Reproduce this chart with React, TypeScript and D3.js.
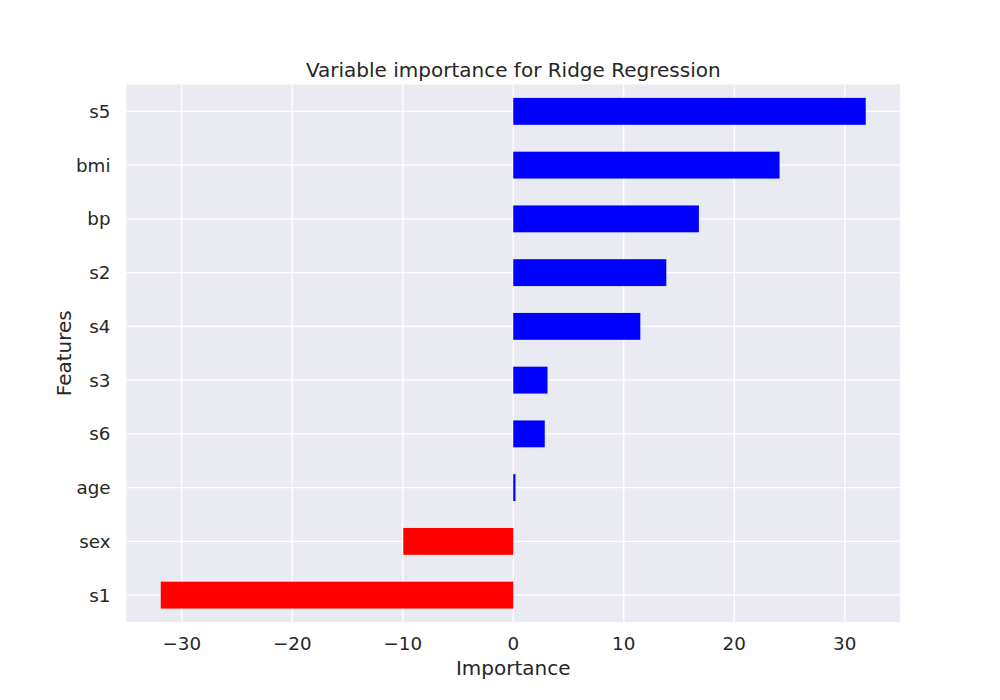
import React, { useEffect, useRef } from 'react';
import * as d3 from 'd3';

const width = 1000;
const height = 700;
const margin = { top: 84.5, right: 100, bottom: 78, left: 126.5 };
const bg = '#eaeaf2';
const textColor = '#262626';

// bottom to top, as pandas barh draws them
const features = ['s1', 'sex', 'age', 's6', 's3', 's4', 's2', 'bp', 'bmi', 's5'];
const importance = [-31.9, -9.95, 0.2, 2.85, 3.1, 11.5, 13.85, 16.8, 24.1, 31.9];
const xTicks = [-30, -20, -10, 0, 10, 20, 30];

export default function App() {
  const ref = useRef<SVGSVGElement>(null);

  useEffect(() => {
    const svg = d3.select(ref.current);
    svg.selectAll('*').remove();

    const x = d3.scaleLinear().domain([-35, 35]).range([margin.left, width - margin.right]);
    // categorical positions 0..n-1, with half a step of padding at each end
    const y = d3
      .scaleLinear()
      .domain([-0.5, features.length - 0.5])
      .range([height - margin.bottom, margin.top]);
    const barH = Math.abs(y(0.25) - y(-0.25));

    const font = 'DejaVu Sans, sans-serif';
    const tickSize = 18.3;
    const labelSize = 20;

    svg
      .append('rect')
      .attr('x', margin.left)
      .attr('y', margin.top)
      .attr('width', width - margin.left - margin.right)
      .attr('height', height - margin.top - margin.bottom)
      .attr('fill', bg);

    // grid
    const grid = svg.append('g').attr('stroke', '#fff').attr('stroke-width', 1.25);
    grid
      .selectAll('line.v')
      .data(xTicks)
      .join('line')
      .attr('x1', (d) => x(d))
      .attr('x2', (d) => x(d))
      .attr('y1', margin.top)
      .attr('y2', height - margin.bottom);
    grid
      .selectAll('line.h')
      .data(features.map((_, i) => i))
      .join('line')
      .attr('x1', margin.left)
      .attr('x2', width - margin.right)
      .attr('y1', (d) => y(d))
      .attr('y2', (d) => y(d));

    // bars
    svg
      .append('g')
      .selectAll('rect')
      .data(importance)
      .join('rect')
      .attr('x', (d) => x(Math.min(0, d)))
      .attr('width', (d) => Math.abs(x(d) - x(0)))
      .attr('y', (_, i) => y(i) - barH / 2)
      .attr('height', barH)
      .attr('fill', (d) => (d < 0 ? '#ff0000' : '#0000ff'));

    // x tick labels
    svg
      .append('g')
      .selectAll('text')
      .data(xTicks)
      .join('text')
      .attr('x', (d) => x(d))
      .attr('y', height - margin.bottom + 28)
      .attr('text-anchor', 'middle')
      .attr('font-family', font)
      .attr('font-size', tickSize)
      .attr('fill', textColor)
      .text((d) => d3.format('d')(d));

    // y tick labels
    svg
      .append('g')
      .selectAll('text')
      .data(features)
      .join('text')
      .attr('x', margin.left - 16)
      .attr('y', (_, i) => y(i))
      .attr('dy', '0.35em')
      .attr('text-anchor', 'end')
      .attr('font-family', font)
      .attr('font-size', tickSize)
      .attr('fill', textColor)
      .text((d) => d);

    // axis titles
    svg
      .append('text')
      .attr('x', (margin.left + width - margin.right) / 2)
      .attr('y', height - margin.bottom + 53)
      .attr('text-anchor', 'middle')
      .attr('font-family', font)
      .attr('font-size', labelSize)
      .attr('fill', textColor)
      .text('Importance');

    svg
      .append('text')
      .attr('transform', `translate(71, ${(margin.top + height - margin.bottom) / 2}) rotate(-90)`)
      .attr('text-anchor', 'middle')
      .attr('font-family', font)
      .attr('font-size', labelSize)
      .attr('fill', textColor)
      .text('Features');

    svg
      .append('text')
      .attr('x', (margin.left + width - margin.right) / 2)
      .attr('y', margin.top - 8)
      .attr('text-anchor', 'middle')
      .attr('font-family', font)
      .attr('font-size', labelSize)
      .attr('fill', textColor)
      .text('Variable importance for Ridge Regression');
  }, []);

  return (
    <svg
      ref={ref}
      width={width}
      height={height}
      style={{ display: 'block', position: 'absolute', left: 0, top: 0, background: '#fff' }}
    />
  );
}
